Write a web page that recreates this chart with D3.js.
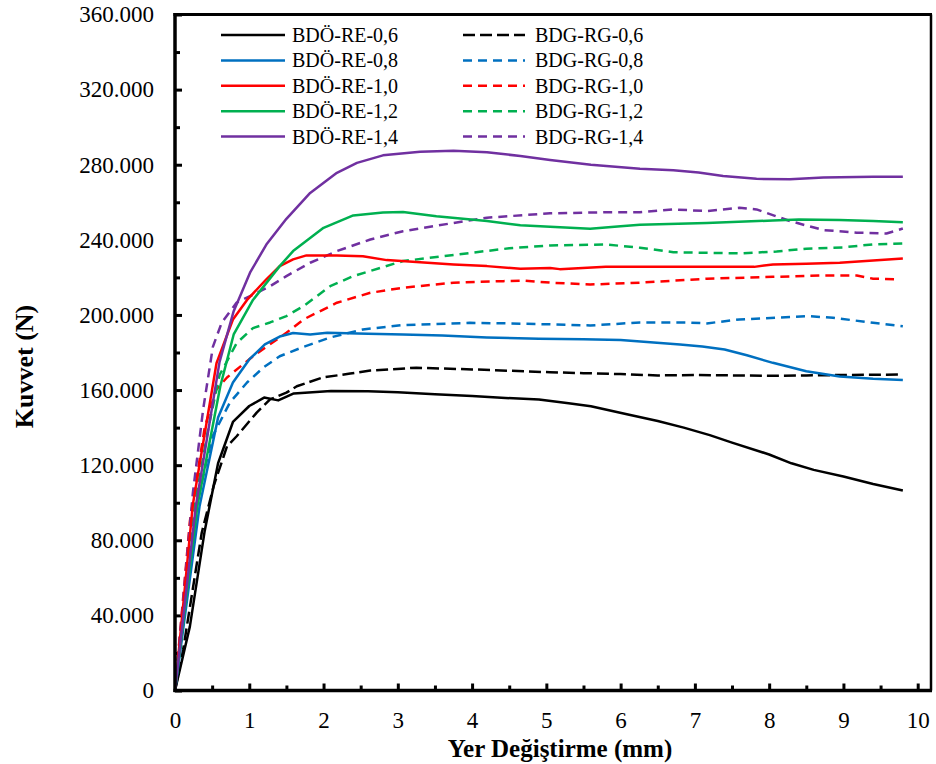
<!DOCTYPE html>
<html>
<head>
<meta charset="utf-8">
<script src="https://cdn.jsdelivr.net/npm/d3@7"></script>
<style>
  body { margin: 0; background: #fff; }
  svg { display: block; font-family: "Liberation Serif", "Times New Roman", serif; }
</style>
</head>
<body>
<svg id="chart" width="936" height="764"></svg>
<script>
// ---------- DATA ----------
const xMajorTicks = [0, 1, 2, 3, 4, 5, 6, 7, 8, 9, 10];
const xMinorTicks = [0.5, 1.5, 2.5, 3.5, 4.5, 5.5, 6.5, 7.5, 8.5, 9.5];
const yMajorTicks = [0, 40, 80, 120, 160, 200, 240, 280, 320, 360];
const yMinorTicks = [20, 60, 100, 140, 180, 220, 260, 300, 340];
const yTickLabels = ["0", "40.000", "80.000", "120.000", "160.000", "200.000", "240.000", "280.000", "320.000", "360.000"];

const xTitle = "Yer Değiştirme (mm)";
const yTitle = "Kuvvet (N)";

const seriesNames = ["BDÖ-RE-0,6", "BDÖ-RE-0,8", "BDÖ-RE-1,0", "BDÖ-RE-1,2", "BDÖ-RE-1,4",
                     "BDG-RG-0,6", "BDG-RG-0,8", "BDG-RG-1,0", "BDG-RG-1,2", "BDG-RG-1,4"];
const seriesColors = ["#000000", "#0070C0", "#FF0000", "#00B050", "#7030A0",
                      "#000000", "#0070C0", "#FF0000", "#00B050", "#7030A0"];
const seriesDashed = [false, false, false, false, false, true, true, true, true, true];

const re06 = [[0,0],[0.2,34],[0.4,85],[0.58,121],[0.78,143],[1.0,151.5],[1.2,156],[1.39,154.5],[1.6,158.2],[2.1,159.5],[2.6,159.3],[3.0,158.8],[3.5,157.8],[4.0,156.8],[4.45,155.8],[4.9,155],[5.3,153],[5.6,151.4],[6.1,147],[6.5,143.5],[6.85,140],[7.2,136],[7.5,132],[8.0,125.7],[8.3,121],[8.6,117.5],[9.0,114],[9.4,110],[9.8,106.5]];
const re08 = [[0,0],[0.33,98],[0.58,145.4],[0.78,164],[1.0,176.3],[1.21,184.3],[1.41,188.5],[1.59,190.4],[1.82,189.6],[2.05,190.5],[2.6,190],[3.07,189.6],[3.6,189],[4.2,188],[4.9,187.3],[5.5,187],[6.0,186.6],[6.4,185.5],[6.8,184.3],[7.1,183.2],[7.4,181.6],[7.7,178.5],[8.05,174.5],[8.5,170],[8.95,167.2],[9.4,166],[9.8,165.3]];
const re10 = [[0,0],[0.24,99],[0.56,174.5],[0.78,197.6],[0.97,208],[1.23,219],[1.41,226],[1.59,229.6],[1.77,231.7],[2.18,231.7],[2.53,231.3],[2.85,229.2],[3.3,228],[3.75,226.9],[4.2,226],[4.65,224.6],[5.05,225],[5.18,224.4],[5.8,225.6],[6.7,225.6],[7.8,225.6],[8.05,226.9],[8.5,227.3],[8.95,227.8],[9.4,229],[9.8,230]];
const re12 = [[0,0],[0.3,98],[0.61,162],[0.79,189.6],[1.05,208],[1.41,226],[1.59,234],[2.0,246.4],[2.4,253],[2.8,254.6],[3.07,254.8],[3.52,252.6],[4.2,250],[4.65,247.8],[5.05,247],[5.59,245.9],[6.0,247.2],[6.26,248],[7.16,249],[8.05,250.3],[8.4,250.8],[8.95,250.5],[9.4,250],[9.8,249.4]];
const re14 = [[0,0],[0.28,98],[0.6,175],[0.79,202],[1.01,222.5],[1.23,237.5],[1.5,251.2],[1.82,265],[2.18,275.7],[2.45,281],[2.8,285],[3.3,286.9],[3.75,287.4],[4.2,286.7],[4.65,284.6],[5.05,282.5],[5.6,280],[6.26,277.9],[6.71,277.1],[7.05,275.8],[7.38,274],[7.83,272.5],[8.28,272.2],[8.73,273.2],[9.4,273.6],[9.8,273.6]];

const rg06 = [[0,0],[0.11,21.8],[0.36,84],[0.52,108.8],[0.7,130],[0.83,135.4],[1.1,148],[1.28,155],[1.5,158.6],[1.64,162],[1.99,166.7],[2.36,168.8],[2.63,170.4],[3.25,171.9],[4.0,171],[4.5,170.3],[5.05,169.5],[5.5,169],[6.0,168.5],[6.5,167.8],[7.0,168],[7.5,167.8],[8.0,167.6],[8.5,167.8],[9.0,168],[9.8,168.3]];
const rg08 = [[0,0],[0.3,100],[0.5,135],[0.74,153.4],[0.97,164],[1.19,172],[1.41,178],[1.73,183],[2.09,188],[2.53,192.3],[3.07,194.6],[3.97,195.8],[4.5,195.5],[5.05,195],[5.59,194.4],[6.26,196],[6.9,196],[7.16,195.5],[7.6,197.6],[8.1,198.5],[8.5,199.4],[8.86,198.5],[9.4,195.8],[9.8,194]];
const rg10 = [[0,0],[0.2,90],[0.4,140],[0.55,160],[0.7,166.7],[1.05,178],[1.5,190.5],[1.73,197.6],[2.18,206.5],[2.63,211.8],[3.07,214.5],[3.75,217.2],[4.42,218],[4.7,218.3],[5.05,217.2],[5.59,216.2],[6.26,217.2],[7.16,219.3],[8.05,220.3],[8.72,221],[9.18,221],[9.4,219.3],[9.73,219]];
const rg12 = [[0,0],[0.27,100],[0.45,140],[0.6,168],[0.83,185],[1.05,193],[1.28,196],[1.5,199.4],[1.73,204.7],[2.09,215.3],[2.4,220.7],[3.07,228.7],[3.97,233],[4.5,235.5],[5.05,237],[5.81,237.5],[6.26,235.8],[6.71,233.4],[7.6,232.8],[8.1,233.8],[8.5,235.3],[9.0,236],[9.4,237.6],[9.8,238]];
const rg14 = [[0,0],[0.24,105],[0.38,150],[0.51,183],[0.63,196],[0.83,206.6],[1.01,210],[1.28,215.3],[1.5,220.7],[1.82,227.8],[2.18,234],[2.63,240.2],[3.07,244.6],[3.75,249],[4.2,251.8],[5.05,254.1],[5.81,254.7],[6.26,254.7],[6.71,256.2],[7.16,255.3],[7.6,257.1],[7.83,256.2],[8.28,250],[8.73,245.2],[9.18,243.8],[9.58,243.4],[9.8,246]];

const seriesData = [re06, re08, re10, re12, re14, rg06, rg08, rg10, rg12, rg14];

// ---------- LAYOUT ----------
const svg = d3.select("#chart");
const pLeft = 175, pRight = 931, pTop = 14.5, pBottom = 690.5;
const x = d3.scaleLinear().domain([0, 10]).range([pLeft, 917.7]);
const y = d3.scaleLinear().domain([0, 360]).range([pBottom, pTop]);

// axes ticks (inward)
const gx = svg.append("g").attr("transform", `translate(0,${pBottom})`);
gx.call(d3.axisBottom(x).tickValues(xMajorTicks).tickSize(-7).tickPadding(21).tickFormat(d3.format("d")));
const gxm = svg.append("g").attr("transform", `translate(0,${pBottom})`);
gxm.call(d3.axisBottom(x).tickValues(xMinorTicks).tickSize(-5).tickFormat(""));

const gy = svg.append("g").attr("transform", `translate(${pLeft},0)`);
gy.call(d3.axisLeft(y).tickValues(yMajorTicks).tickSize(-7).tickPadding(21).tickFormat((d, i) => yTickLabels[i]));
const gym = svg.append("g").attr("transform", `translate(${pLeft},0)`);
gym.call(d3.axisLeft(y).tickValues(yMinorTicks).tickSize(-5).tickFormat(""));

[gx, gxm, gy, gym].forEach(g => {
  g.select(".domain").remove();
  g.selectAll(".tick line").attr("stroke", "#000").attr("stroke-width", 3);
  g.selectAll(".tick text").attr("fill", "#000").style("font-size", "23px")
    .style("font-family", '"Liberation Serif", "Times New Roman", serif');
});

// series lines
const line = d3.line().x(d => x(d[0])).y(d => y(d[1]));
svg.append("clipPath").attr("id", "clip").append("rect")
  .attr("x", pLeft).attr("y", pTop).attr("width", pRight - pLeft).attr("height", pBottom - pTop);
const plot = svg.append("g").attr("clip-path", "url(#clip)");
const order = [5, 6, 7, 8, 9, 0, 1, 2, 3, 4];
order.forEach(i => {
  plot.append("path")
    .datum(seriesData[i])
    .attr("fill", "none")
    .attr("stroke", seriesColors[i])
    .attr("stroke-width", 2.5)
    .attr("stroke-linejoin", "round")
    .attr("stroke-dasharray", seriesDashed[i] ? (i === 5 ? "12,5" : "9,6") : null)
    .attr("d", line);
});

// frame
svg.append("line").attr("x1", pLeft).attr("x2", pLeft).attr("y1", pTop - 1.5).attr("y2", pBottom + 1.5)
  .attr("stroke", "#000").attr("stroke-width", 3.5);
svg.append("line").attr("x1", pLeft - 1.5).attr("x2", pRight + 1).attr("y1", pBottom).attr("y2", pBottom)
  .attr("stroke", "#000").attr("stroke-width", 3.5);
svg.append("line").attr("x1", pLeft - 1.5).attr("x2", pRight + 1).attr("y1", pTop).attr("y2", pTop)
  .attr("stroke", "#000").attr("stroke-width", 3);
svg.append("line").attr("x1", pRight).attr("x2", pRight).attr("y1", pTop).attr("y2", pBottom)
  .attr("stroke", "#000").attr("stroke-width", 2.5);

// axis titles
svg.append("text").attr("x", 560).attr("y", 757).attr("text-anchor", "middle")
  .style("font-size", "25px").style("font-weight", "bold").attr("fill", "#000").text(xTitle);
svg.append("text").attr("transform", "translate(33,366.5) rotate(-90)").attr("text-anchor", "middle")
  .style("font-size", "26px").style("font-weight", "bold").attr("fill", "#000").text(yTitle);

// legend
const legend = svg.append("g");
const rowY0 = 35, rowStep = 25.4;
seriesNames.forEach((name, i) => {
  const col = i < 5 ? 0 : 1;
  const row = i % 5;
  const yy = rowY0 + row * rowStep;
  const lx1 = col === 0 ? 221 : 463, lx2 = col === 0 ? 285 : 525, tx = col === 0 ? 292 : 535;
  legend.append("line").attr("x1", lx1).attr("x2", lx2).attr("y1", yy).attr("y2", yy)
    .attr("stroke", seriesColors[i]).attr("stroke-width", 2.5)
    .attr("stroke-dasharray", seriesDashed[i] ? (i === 5 ? "12,5" : "9,6") : null);
  legend.append("text").attr("x", tx).attr("y", yy + 7).style("font-size", "20px")
    .attr("fill", "#000").text(name);
});
</script>
</body>
</html>
